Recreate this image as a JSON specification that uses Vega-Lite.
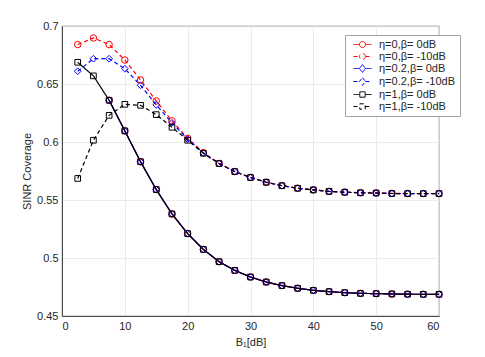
{
  "$schema": "https://vega.github.io/schema/vega-lite/v6.json",
  "autosize": "none",
  "width": 377,
  "height": 290,
  "padding": {"left": 62, "top": 26, "right": 46, "bottom": 41},
  "background": "white",
  "config": {
    "font": "Liberation Sans",
    "view": {"stroke": "#262626", "strokeWidth": 0.8},
    "axis": {
      "labelFont": "Liberation Sans", "labelFontSize": 11, "labelColor": "#262626",
      "titleFont": "Liberation Sans", "titleFontSize": 11, "titleColor": "#262626", "titleFontWeight": "normal",
      "domainColor": "#262626", "domainWidth": 0.8, "ticks": false,
      "gridColor": "#e6e6e6", "gridWidth": 0.8, "labelPadding": 4
    },
    "legend": {
      "orient": "none", "legendX": 283, "legendY": 9,
      "strokeColor": "#a0a0a0", "fillColor": "white", "padding": 4,
      "labelFont": "Liberation Sans", "labelFontSize": 11, "labelColor": "#262626",
      "symbolSize": 36, "symbolStrokeWidth": 1, "symbolOffset": 8, "labelOffset": 11, "rowPadding": 0
    }
  },
  "datasets": {
    "curves": [
    {"s":"η=0,β= 0dB","x":7.5,"y":0.636},{"s":"η=0,β= 0dB","x":10,"y":0.6096},{"s":"η=0,β= 0dB","x":12.5,"y":0.583},{"s":"η=0,β= 0dB","x":15,"y":0.559},{"s":"η=0,β= 0dB","x":17.5,"y":0.538},{"s":"η=0,β= 0dB","x":20,"y":0.521},{"s":"η=0,β= 0dB","x":22.5,"y":0.5074},{"s":"η=0,β= 0dB","x":25,"y":0.4968},{"s":"η=0,β= 0dB","x":27.5,"y":0.4893},{"s":"η=0,β= 0dB","x":30,"y":0.4836},{"s":"η=0,β= 0dB","x":32.5,"y":0.4793},{"s":"η=0,β= 0dB","x":35,"y":0.4762},{"s":"η=0,β= 0dB","x":37.5,"y":0.4739},{"s":"η=0,β= 0dB","x":40,"y":0.4721},{"s":"η=0,β= 0dB","x":42.5,"y":0.471},{"s":"η=0,β= 0dB","x":45,"y":0.4701},{"s":"η=0,β= 0dB","x":47.5,"y":0.4695},{"s":"η=0,β= 0dB","x":50,"y":0.4693},{"s":"η=0,β= 0dB","x":52.5,"y":0.469},{"s":"η=0,β= 0dB","x":55,"y":0.4688},{"s":"η=0,β= 0dB","x":57.5,"y":0.4687},{"s":"η=0,β= 0dB","x":60,"y":0.4687},
    {"s":"η=0.2,β= 0dB","x":7.5,"y":0.636},{"s":"η=0.2,β= 0dB","x":10,"y":0.6096},{"s":"η=0.2,β= 0dB","x":12.5,"y":0.583},{"s":"η=0.2,β= 0dB","x":15,"y":0.559},{"s":"η=0.2,β= 0dB","x":17.5,"y":0.538},{"s":"η=0.2,β= 0dB","x":20,"y":0.521},{"s":"η=0.2,β= 0dB","x":22.5,"y":0.5074},{"s":"η=0.2,β= 0dB","x":25,"y":0.4968},{"s":"η=0.2,β= 0dB","x":27.5,"y":0.4893},{"s":"η=0.2,β= 0dB","x":30,"y":0.4836},{"s":"η=0.2,β= 0dB","x":32.5,"y":0.4793},{"s":"η=0.2,β= 0dB","x":35,"y":0.4762},{"s":"η=0.2,β= 0dB","x":37.5,"y":0.4739},{"s":"η=0.2,β= 0dB","x":40,"y":0.4721},{"s":"η=0.2,β= 0dB","x":42.5,"y":0.471},{"s":"η=0.2,β= 0dB","x":45,"y":0.4701},{"s":"η=0.2,β= 0dB","x":47.5,"y":0.4695},{"s":"η=0.2,β= 0dB","x":50,"y":0.4693},{"s":"η=0.2,β= 0dB","x":52.5,"y":0.469},{"s":"η=0.2,β= 0dB","x":55,"y":0.4688},{"s":"η=0.2,β= 0dB","x":57.5,"y":0.4687},{"s":"η=0.2,β= 0dB","x":60,"y":0.4687},
    {"s":"η=0,β= -10dB","x":2.5,"y":0.684},{"s":"η=0,β= -10dB","x":5,"y":0.6897},{"s":"η=0,β= -10dB","x":7.5,"y":0.684},{"s":"η=0,β= -10dB","x":10,"y":0.6707},{"s":"η=0,β= -10dB","x":12.5,"y":0.6535},{"s":"η=0,β= -10dB","x":15,"y":0.6354},{"s":"η=0,β= -10dB","x":17.5,"y":0.6182},{"s":"η=0,β= -10dB","x":20,"y":0.6032},{"s":"η=0,β= -10dB","x":22.5,"y":0.5908},{"s":"η=0,β= -10dB","x":25,"y":0.5815},{"s":"η=0,β= -10dB","x":27.5,"y":0.5746},{"s":"η=0,β= -10dB","x":30,"y":0.5695},{"s":"η=0,β= -10dB","x":32.5,"y":0.5654},{"s":"η=0,β= -10dB","x":35,"y":0.5624},{"s":"η=0,β= -10dB","x":37.5,"y":0.5602},{"s":"η=0,β= -10dB","x":40,"y":0.5588},{"s":"η=0,β= -10dB","x":42.5,"y":0.5575},{"s":"η=0,β= -10dB","x":45,"y":0.5568},{"s":"η=0,β= -10dB","x":47.5,"y":0.5563},{"s":"η=0,β= -10dB","x":50,"y":0.5561},{"s":"η=0,β= -10dB","x":52.5,"y":0.5557},{"s":"η=0,β= -10dB","x":55,"y":0.5556},{"s":"η=0,β= -10dB","x":57.5,"y":0.5556},{"s":"η=0,β= -10dB","x":60,"y":0.5556},
    {"s":"η=0.2,β= -10dB","x":2.5,"y":0.661},{"s":"η=0.2,β= -10dB","x":5,"y":0.6718},{"s":"η=0.2,β= -10dB","x":7.5,"y":0.6718},{"s":"η=0.2,β= -10dB","x":10,"y":0.6632},{"s":"η=0.2,β= -10dB","x":12.5,"y":0.6489},{"s":"η=0.2,β= -10dB","x":15,"y":0.632},{"s":"η=0.2,β= -10dB","x":17.5,"y":0.6165},{"s":"η=0.2,β= -10dB","x":20,"y":0.6025},{"s":"η=0.2,β= -10dB","x":22.5,"y":0.5905},{"s":"η=0.2,β= -10dB","x":25,"y":0.5814},{"s":"η=0.2,β= -10dB","x":27.5,"y":0.5745},{"s":"η=0.2,β= -10dB","x":30,"y":0.5694},{"s":"η=0.2,β= -10dB","x":32.5,"y":0.5653},{"s":"η=0.2,β= -10dB","x":35,"y":0.5623},{"s":"η=0.2,β= -10dB","x":37.5,"y":0.5601},{"s":"η=0.2,β= -10dB","x":40,"y":0.5587},{"s":"η=0.2,β= -10dB","x":42.5,"y":0.5574},{"s":"η=0.2,β= -10dB","x":45,"y":0.5567},{"s":"η=0.2,β= -10dB","x":47.5,"y":0.5562},{"s":"η=0.2,β= -10dB","x":50,"y":0.556},{"s":"η=0.2,β= -10dB","x":52.5,"y":0.5556},{"s":"η=0.2,β= -10dB","x":55,"y":0.5555},{"s":"η=0.2,β= -10dB","x":57.5,"y":0.5555},{"s":"η=0.2,β= -10dB","x":60,"y":0.5555},
    {"s":"η=1,β= -10dB","x":2.5,"y":0.5686},{"s":"η=1,β= -10dB","x":5,"y":0.6015},{"s":"η=1,β= -10dB","x":7.5,"y":0.623},{"s":"η=1,β= -10dB","x":10,"y":0.6325},{"s":"η=1,β= -10dB","x":12.5,"y":0.6316},{"s":"η=1,β= -10dB","x":15,"y":0.6236},{"s":"η=1,β= -10dB","x":17.5,"y":0.6127},{"s":"η=1,β= -10dB","x":20,"y":0.6015},{"s":"η=1,β= -10dB","x":22.5,"y":0.5903},{"s":"η=1,β= -10dB","x":25,"y":0.5814},{"s":"η=1,β= -10dB","x":27.5,"y":0.5745},{"s":"η=1,β= -10dB","x":30,"y":0.5694},{"s":"η=1,β= -10dB","x":32.5,"y":0.5653},{"s":"η=1,β= -10dB","x":35,"y":0.5623},{"s":"η=1,β= -10dB","x":37.5,"y":0.5601},{"s":"η=1,β= -10dB","x":40,"y":0.5587},{"s":"η=1,β= -10dB","x":42.5,"y":0.5574},{"s":"η=1,β= -10dB","x":45,"y":0.5567},{"s":"η=1,β= -10dB","x":47.5,"y":0.5562},{"s":"η=1,β= -10dB","x":50,"y":0.556},{"s":"η=1,β= -10dB","x":52.5,"y":0.5556},{"s":"η=1,β= -10dB","x":55,"y":0.5555},{"s":"η=1,β= -10dB","x":57.5,"y":0.5555},{"s":"η=1,β= -10dB","x":60,"y":0.5555},
    {"s":"η=1,β= 0dB","x":2.5,"y":0.6687},{"s":"η=1,β= 0dB","x":5,"y":0.657},{"s":"η=1,β= 0dB","x":7.5,"y":0.636},{"s":"η=1,β= 0dB","x":10,"y":0.6096},{"s":"η=1,β= 0dB","x":12.5,"y":0.583},{"s":"η=1,β= 0dB","x":15,"y":0.559},{"s":"η=1,β= 0dB","x":17.5,"y":0.538},{"s":"η=1,β= 0dB","x":20,"y":0.521},{"s":"η=1,β= 0dB","x":22.5,"y":0.5074},{"s":"η=1,β= 0dB","x":25,"y":0.4968},{"s":"η=1,β= 0dB","x":27.5,"y":0.4893},{"s":"η=1,β= 0dB","x":30,"y":0.4836},{"s":"η=1,β= 0dB","x":32.5,"y":0.4793},{"s":"η=1,β= 0dB","x":35,"y":0.4762},{"s":"η=1,β= 0dB","x":37.5,"y":0.4739},{"s":"η=1,β= 0dB","x":40,"y":0.4721},{"s":"η=1,β= 0dB","x":42.5,"y":0.471},{"s":"η=1,β= 0dB","x":45,"y":0.4701},{"s":"η=1,β= 0dB","x":47.5,"y":0.4695},{"s":"η=1,β= 0dB","x":50,"y":0.4693},{"s":"η=1,β= 0dB","x":52.5,"y":0.469},{"s":"η=1,β= 0dB","x":55,"y":0.4688},{"s":"η=1,β= 0dB","x":57.5,"y":0.4687},{"s":"η=1,β= 0dB","x":60,"y":0.4687}
    ],
    "keys": [
      {"s":"η=0,β= 0dB"},{"s":"η=0,β= -10dB"},{"s":"η=0.2,β= 0dB"},{"s":"η=0.2,β= -10dB"},{"s":"η=1,β= 0dB"},{"s":"η=1,β= -10dB"}
    ]
  },
  "encoding": {
    "x": {"field": "x", "type": "quantitative", "title": "B₁[dB]",
          "scale": {"domain": [0, 60], "nice": false},
          "axis": {"values": [0,10,20,30,40,50,60], "titlePadding": 5}},
    "y": {"field": "y", "type": "quantitative", "title": "SINR Coverage",
          "scale": {"domain": [0.45, 0.7], "nice": false, "zero": false},
          "axis": {"values": [0.45,0.5,0.55,0.6,0.65,0.7], "format": ".2~f", "titlePadding": 4}},
    "color": {"field": "s", "type": "nominal", "title": null,
      "scale": {"domain": ["η=0,β= 0dB","η=0,β= -10dB","η=0.2,β= 0dB","η=0.2,β= -10dB","η=1,β= 0dB","η=1,β= -10dB"],
                "range": ["#ff0000","#ff0000","#0000ff","#0000ff","#000000","#000000"]}}
  },
  "layer": [
    {
      "data": {"name": "curves"},
      "mark": {"type": "line", "strokeWidth": 1.2},
      "encoding": {
        "strokeDash": {"field": "s", "type": "nominal", "title": null,
          "scale": {"domain": ["η=0,β= 0dB","η=0,β= -10dB","η=0.2,β= 0dB","η=0.2,β= -10dB","η=1,β= 0dB","η=1,β= -10dB"],
                    "range": [[1,0],[4,3],[1,0],[4,3],[1,0],[4,3]]}}
      }
    },
    {
      "data": {"name": "curves"},
      "transform": [{"filter": {"field": "s", "oneOf": ["η=0,β= 0dB","η=0,β= -10dB"]}}],
      "mark": {"type": "point", "filled": false, "strokeWidth": 1, "opacity": 1, "shape": "circle", "size": 42}
    },
    {
      "data": {"name": "curves"},
      "transform": [{"filter": {"field": "s", "oneOf": ["η=0.2,β= 0dB","η=0.2,β= -10dB"]}}],
      "mark": {"type": "point", "filled": false, "strokeWidth": 1, "opacity": 1, "shape": "diamond", "size": 45}
    },
    {
      "data": {"name": "curves"},
      "transform": [{"filter": {"field": "s", "oneOf": ["η=1,β= 0dB","η=1,β= -10dB"]}}],
      "mark": {"type": "point", "filled": false, "strokeWidth": 1, "opacity": 1, "shape": "square", "size": 32}
    },
    {
      "data": {"name": "keys"},
      "mark": {"type": "point", "filled": false, "strokeWidth": 1, "opacity": 1},
      "encoding": {
        "shape": {"field": "s", "type": "nominal", "title": null,
          "scale": {"domain": ["η=0,β= 0dB","η=0,β= -10dB","η=0.2,β= 0dB","η=0.2,β= -10dB","η=1,β= 0dB","η=1,β= -10dB"],
                    "range": ["M-3,0H-1M1,0H3M1,0A1,1,0,1,1,-1,0A1,1,0,1,1,1,0","M-3,0H-1M1,0H3M1,0A1,1,0,1,1,-1,0A1,1,0,1,1,1,0","M-3,0H-1M1,0H3M0,-1.3L1,0L0,1.3L-1,0Z","M-3,0H-1M1,0H3M0,-1.3L1,0L0,1.3L-1,0Z","M-3,0H-0.9M0.9,0H3M-0.9,-0.9H0.9V0.9H-0.9Z","M-3,0H-0.9M0.9,0H3M-0.9,-0.9H0.9V0.9H-0.9Z"]}},
        "strokeDash": {"field": "s", "type": "nominal", "title": null}
      }
    }
  ]
}
